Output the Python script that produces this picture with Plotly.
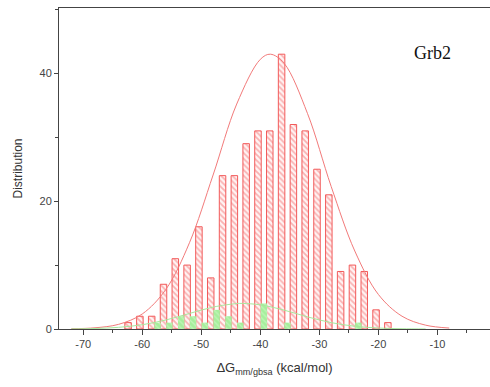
import plotly.graph_objects as go

# Red histogram (total) - bin centers and counts
red_x = [-62.4, -60.4, -58.4, -56.4, -54.4, -52.4, -50.4, -48.4, -46.4, -44.4, -42.4, -40.4,
         -38.4, -36.4, -34.4, -32.4, -30.4, -28.4, -26.4, -24.4, -22.4, -20.4, -18.4]
red_y = [1, 2, 2, 7, 11, 10, 16, 8, 24, 24, 29, 31, 31, 43, 32, 31, 25, 21, 9, 10, 9, 3, 1]

# Green histogram
green_x = [-57.4, -55.4, -53.4, -51.4, -49.4, -47.4, -45.4, -43.4, -41.4, -39.4, -37.4,
           -35.4, -33.4, -31.4, -29.4, -27.4, -25.4, -23.4]
green_y = [1, 1, 2, 2, 1, 3, 2, 1, 0, 4, 0, 1, 0, 0, 0, 0, 0, 1]

# Fitted curves
red_curve_x = [-72, -68, -64, -60, -56, -52, -48, -44, -40, -38.3, -36, -32, -28, -24, -20, -16, -12, -8]
red_curve_y = [0.04, 0.19, 0.73, 2.35, 6.2, 13.5, 24.1, 35.2, 42.2, 43, 41.6, 33.7, 22.3, 12.2, 5.4, 2.0, 0.6, 0.15]

green_curve_x = [-72, -68, -64, -60, -56, -52, -48, -44, -43, -40, -36, -32, -28, -24, -20, -16, -12]
green_curve_y = [0.02, 0.08, 0.26, 0.67, 1.41, 2.43, 3.43, 3.98, 4.0, 3.78, 2.96, 1.9, 1.0, 0.43, 0.15, 0.04, 0.01]

x_ticks = [-70, -60, -50, -40, -30, -20, -10]
y_ticks = [0, 20, 40]

fig = go.Figure()

fig.add_trace(go.Bar(
    x=red_x, y=red_y, width=1.1,
    marker=dict(color="#fff4f4",
                line=dict(color="#f25a5a", width=1),
                pattern=dict(shape="\\", fgcolor="#f47070", size=4, solidity=0.45, fillmode="overlay")),
    showlegend=False,
))
fig.add_trace(go.Bar(
    x=green_x, y=green_y, width=1.1,
    marker=dict(color="#a6ef9c",
                line=dict(color="#a6ef9c", width=0),
                pattern=dict(shape="\\", fgcolor="#dcf8d6", size=4, solidity=0.3, fillmode="overlay")),
    showlegend=False,
))
fig.add_trace(go.Scatter(
    x=red_curve_x, y=red_curve_y, mode="lines", line=dict(color="#f27a7a", width=1, shape="spline"),
    showlegend=False,
))
fig.add_trace(go.Scatter(
    x=green_curve_x, y=green_curve_y, mode="lines", line=dict(color="#a8e89c", width=1, shape="spline"),
    showlegend=False,
))

fig.add_annotation(x=-10.9, y=43.2, xref="x", yref="y", text="Grb2", showarrow=False,
                   font=dict(family="Liberation Serif", size=18, color="#111"))

fig.update_layout(
    width=490, height=387,
    margin=dict(l=59, r=0, t=8, b=58),
    paper_bgcolor="white", plot_bgcolor="white",
    barmode="overlay",
    font=dict(family="Liberation Sans", color="#333"),
    xaxis=dict(range=[-74.1, -1.1], tickvals=x_ticks, ticktext=[str(v) for v in x_ticks],
               ticks="outside", ticklen=5, tickcolor="#444", tickfont=dict(size=11, color="#444"),
               minor=dict(dtick=5, tick0=0, ticks="outside", ticklen=3, tickcolor="#444"),
               showline=True, linecolor="#444", linewidth=1, mirror=True, showgrid=False, zeroline=False,
               title=dict(text="ΔG<sub>mm/gbsa</sub> (kcal/mol)", font=dict(size=13, color="#333"), standoff=13)),
    yaxis=dict(range=[0, 50.23], tickvals=y_ticks, ticktext=[str(v) for v in y_ticks],
               ticks="outside", ticklen=4, tickcolor="#444", tickfont=dict(size=11, color="#444"),
               minor=dict(dtick=10, tick0=0, ticks="outside", ticklen=3, tickcolor="#444"),
               showline=True, linecolor="#444", linewidth=1, mirror=True, showgrid=False, zeroline=False,
               title=dict(text="Distribution", font=dict(size=12, color="#333"), standoff=14)),
)

fig.write_html("out.html")
